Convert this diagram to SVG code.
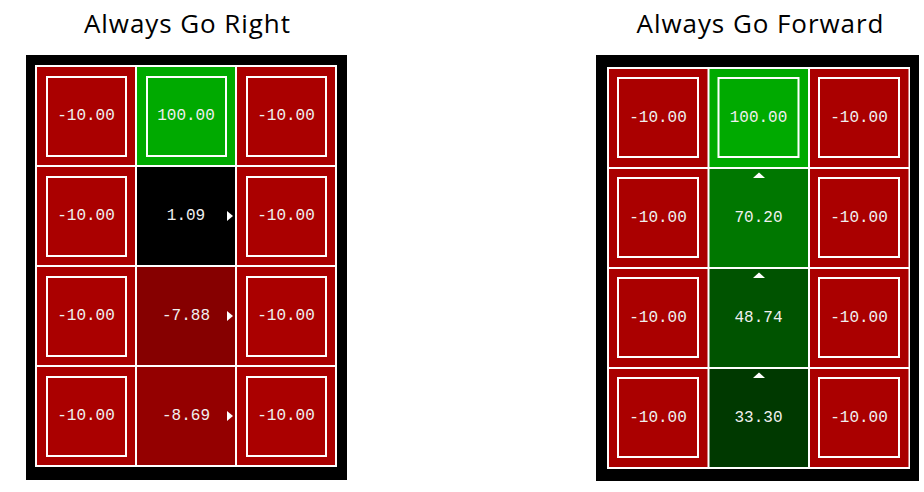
<svg xmlns="http://www.w3.org/2000/svg" width="924" height="492" viewBox="0 0 924 492">
<style>
.title{font-family:"Open Sans","Noto Sans",sans-serif;font-size:26px;fill:#000;text-anchor:middle}
.v{font-family:"Liberation Mono","DejaVu Sans Mono",monospace;font-size:16px;fill:#f0f0f0;text-anchor:middle}
.box{fill:none;stroke:#fff;stroke-width:2}
.arr{fill:#fff}
.red{fill:#aa0000}
.grn{fill:#00aa00}
</style>
<rect width="924" height="492" fill="#fff"/>
<text class="title" x="187" y="33" textLength="206">Always Go Right</text>
<text class="title" x="760" y="33" textLength="247">Always Go Forward</text>

<g id="grid-right-policy">
<rect x="26" y="55" width="321" height="425" fill="#000"/>
<rect x="35" y="65" width="302" height="402" fill="#fff"/>
<g id="L-r0c0"><rect class="red" x="37" y="67" width="98" height="98"/><rect class="box" x="47" y="77" width="79" height="79"/><text class="v" x="86" y="120">-10.00</text></g>
<g id="L-r0c1"><rect class="grn" x="137" y="67" width="98" height="98"/><rect class="box" x="147" y="77" width="79" height="79"/><text class="v" x="186" y="120">100.00</text></g>
<g id="L-r0c2"><rect class="red" x="237" y="67" width="98" height="98"/><rect class="box" x="247" y="77" width="79" height="79"/><text class="v" x="286" y="120">-10.00</text></g>
<g id="L-r1c0"><rect class="red" x="37" y="167" width="98" height="98"/><rect class="box" x="47" y="177" width="79" height="79"/><text class="v" x="86" y="220">-10.00</text></g>
<g id="L-r1c1"><rect x="137" y="167" width="98" height="98" fill="#000"/><text class="v" x="186" y="220">1.09</text><polygon class="arr" points="227,211 233,216 227,221"/></g>
<g id="L-r1c2"><rect class="red" x="237" y="167" width="98" height="98"/><rect class="box" x="247" y="177" width="79" height="79"/><text class="v" x="286" y="220">-10.00</text></g>
<g id="L-r2c0"><rect class="red" x="37" y="267" width="98" height="98"/><rect class="box" x="47" y="277" width="79" height="79"/><text class="v" x="86" y="320">-10.00</text></g>
<g id="L-r2c1"><rect x="137" y="267" width="98" height="98" fill="#860000"/><text class="v" x="186" y="320">-7.88</text><polygon class="arr" points="227,311 233,316 227,321"/></g>
<g id="L-r2c2"><rect class="red" x="237" y="267" width="98" height="98"/><rect class="box" x="247" y="277" width="79" height="79"/><text class="v" x="286" y="320">-10.00</text></g>
<g id="L-r3c0"><rect class="red" x="37" y="367" width="98" height="98"/><rect class="box" x="47" y="377" width="79" height="79"/><text class="v" x="86" y="420">-10.00</text></g>
<g id="L-r3c1"><rect x="137" y="367" width="98" height="98" fill="#940000"/><text class="v" x="186" y="420">-8.69</text><polygon class="arr" points="227,411 233,416 227,421"/></g>
<g id="L-r3c2"><rect class="red" x="237" y="367" width="98" height="98"/><rect class="box" x="247" y="377" width="79" height="79"/><text class="v" x="286" y="420">-10.00</text></g>
</g>

<g id="grid-forward-policy">
<rect x="596" y="55" width="323" height="426" fill="#000"/>
<rect x="607" y="67" width="303" height="402" fill="#fff"/>
<g id="R-r0c0"><rect class="red" x="609" y="69" width="98.5" height="98"/><rect class="box" x="618" y="78" width="80" height="79"/><text class="v" x="658" y="122">-10.00</text></g>
<g id="R-r0c1"><rect class="grn" x="709.5" y="69" width="98.5" height="98"/><rect class="box" x="718.5" y="78" width="80" height="79"/><text class="v" x="758.5" y="122">100.00</text></g>
<g id="R-r0c2"><rect class="red" x="810" y="69" width="98.5" height="98"/><rect class="box" x="819" y="78" width="80" height="79"/><text class="v" x="859" y="122">-10.00</text></g>
<g id="R-r1c0"><rect class="red" x="609" y="169" width="98.5" height="98"/><rect class="box" x="618" y="178" width="80" height="79"/><text class="v" x="658" y="222">-10.00</text></g>
<g id="R-r1c1"><rect x="709.5" y="169" width="98.5" height="98" fill="#007700"/><polygon class="arr" points="753,178 759,172.5 765,178"/><text class="v" x="758.5" y="222">70.20</text></g>
<g id="R-r1c2"><rect class="red" x="810" y="169" width="98.5" height="98"/><rect class="box" x="819" y="178" width="80" height="79"/><text class="v" x="859" y="222">-10.00</text></g>
<g id="R-r2c0"><rect class="red" x="609" y="269" width="98.5" height="98"/><rect class="box" x="618" y="278" width="80" height="79"/><text class="v" x="658" y="322">-10.00</text></g>
<g id="R-r2c1"><rect x="709.5" y="269" width="98.5" height="98" fill="#005300"/><polygon class="arr" points="753,278 759,272.5 765,278"/><text class="v" x="758.5" y="322">48.74</text></g>
<g id="R-r2c2"><rect class="red" x="810" y="269" width="98.5" height="98"/><rect class="box" x="819" y="278" width="80" height="79"/><text class="v" x="859" y="322">-10.00</text></g>
<g id="R-r3c0"><rect class="red" x="609" y="369" width="98.5" height="98"/><rect class="box" x="618" y="378" width="80" height="79"/><text class="v" x="658" y="422">-10.00</text></g>
<g id="R-r3c1"><rect x="709.5" y="369" width="98.5" height="98" fill="#003900"/><polygon class="arr" points="753,378 759,372.5 765,378"/><text class="v" x="758.5" y="422">33.30</text></g>
<g id="R-r3c2"><rect class="red" x="810" y="369" width="98.5" height="98"/><rect class="box" x="819" y="378" width="80" height="79"/><text class="v" x="859" y="422">-10.00</text></g>
</g>
<g id="connectors"/>
</svg>
